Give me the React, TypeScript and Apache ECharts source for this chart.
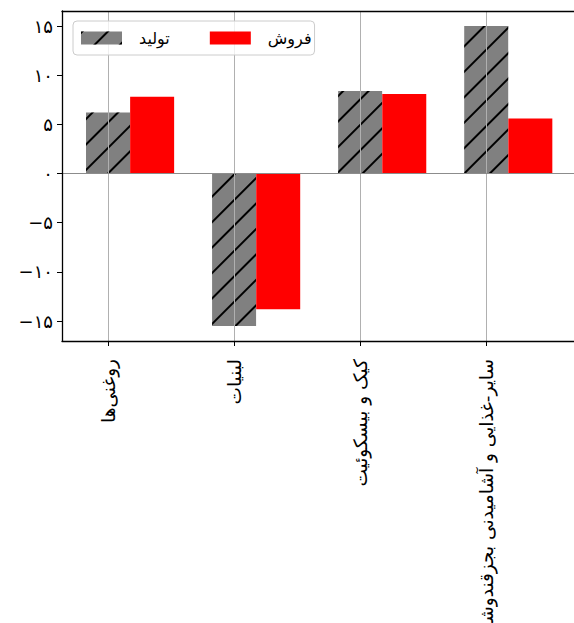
import React, { useEffect, useRef } from 'react';
import * as echarts from 'echarts';

const categories = ['روغنی\u200cها', 'لبنیات', 'کیک و بیسکوئیت', 'سایر-غذایی و آشامیدنی بجزقندوشکر'];
const productionValues = [6.2, -15.5, 8.4, 15.0];
const salesValues = [7.8, -13.8, 8.1, 5.6];
const seriesNames = ['تولید', 'فروش'];
const yTickValues = [-15, -10, -5, 0, 5, 10, 15];

const FONT = '"DejaVu Sans", "Noto Sans", sans-serif';
const X_MIN = -0.365;
const X_MAX = 3.744;
const BAR_SHIFT = 0.35;
const Y_MIN = -17.03;
const Y_MAX = 16.53;

const faDigits = '۰۱۲۳۴۵۶۷۸۹';
const toFa = (n: number) =>
  (n < 0 ? '\u2212' : '') + String(Math.abs(n)).replace(/\d/g, (d) => faDigits[+d]);

const categoryIndex = categories.map((_, i) => i);
const SPINE = { color: '#000000', width: 1.3 };

export default function App() {
  const ref = useRef<HTMLDivElement>(null);
  useEffect(() => {
    if (!ref.current) return;
    const chart = echarts.init(ref.current, undefined, { renderer: 'svg' });
    const option: any = {
      animation: false,
      backgroundColor: '#ffffff',
      grid: {
        left: 62,
        top: 11,
        right: 20,
        bottom: 282,
        containLabel: false,
        outerBoundsMode: 'none',
        show: false,
      },
      legend: {
        left: 73,
        top: 21,
        orient: 'horizontal',
        icon: 'rect',
        itemWidth: 41,
        itemHeight: 13,
        itemGap: 40,
        padding: [9, 3, 9, 8],
        borderColor: '#cccccc',
        borderWidth: 1,
        borderRadius: 4,
        backgroundColor: 'rgba(255,255,255,0.8)',
        textStyle: { fontFamily: FONT, fontSize: 16, color: '#000', padding: [0, 0, 0, 12] },
        z: 10,
        data: seriesNames,
      },
      xAxis: [
        {
          type: 'value',
          position: 'bottom',
          min: X_MIN,
          max: X_MAX,
          minInterval: 1,
          maxInterval: 1,
          z: 5,
          axisLine: { show: true, onZero: false, lineStyle: SPINE },
          axisTick: {
            show: true,
            length: 5,
            inside: false,
            lineStyle: { color: '#000', width: 1 },
            customValues: categoryIndex,
          },
          axisLabel: {
            rotate: 90,
            margin: 18,
            customValues: categoryIndex,
            formatter: (v: number) => categories[Math.round(v)] ?? '',
            fontFamily: FONT,
            fontSize: 18.5,
            color: '#000',
          },
          splitLine: { show: true, lineStyle: { color: '#b0b0b0', width: 1 } },
        },
        {
          type: 'value',
          position: 'top',
          min: X_MIN,
          max: X_MAX,
          z: 6,
          axisLine: { show: true, onZero: false, lineStyle: SPINE },
          axisTick: { show: false },
          axisLabel: { show: false },
          splitLine: { show: false },
        },
        {
          type: 'value',
          min: X_MIN - BAR_SHIFT,
          max: X_MAX - BAR_SHIFT,
          z: 5,
          axisLine: { show: true, onZero: true, lineStyle: { color: '#8c8c8c', width: 1 } },
          axisTick: { show: false },
          axisLabel: { show: false },
          splitLine: { show: false },
        },
      ],
      yAxis: {
        type: 'value',
        position: 'left',
        min: Y_MIN,
        max: Y_MAX,
        minInterval: 5,
        maxInterval: 5,
        z: 6,
        axisLine: { show: true, onZero: false, lineStyle: SPINE },
        axisTick: {
          show: true,
          length: 5,
          inside: false,
          lineStyle: { color: '#000', width: 1 },
          customValues: yTickValues,
        },
        axisLabel: {
          customValues: yTickValues,
          formatter: (v: number) => toFa(v),
          margin: 9,
          fontFamily: FONT,
          fontSize: 18,
          color: '#000',
        },
        splitLine: { show: false },
      },
      series: [
        {
          type: 'bar',
          name: seriesNames[0],
          xAxisIndex: 0,
          yAxisIndex: 0,
          barWidth: 44,
          data: productionValues.map((v, i) => [categoryIndex[i], v]),
          itemStyle: {
            color: '#808080',
            decal: {
              symbol: 'rect',
              symbolSize: 1,
              dashArrayX: [1, 0],
              dashArrayY: [1.6, 15.4],
              rotation: -Math.PI / 4,
              color: '#000000',
            },
          },
        },
        {
          type: 'bar',
          name: seriesNames[1],
          xAxisIndex: 2,
          yAxisIndex: 0,
          barWidth: 44,
          data: salesValues.map((v, i) => [categoryIndex[i], v]),
          itemStyle: { color: '#ff0000' },
        },
      ],
    };
    chart.setOption(option);
    return () => chart.dispose();
  }, []);
  return (
    <div
      style={{ position: 'fixed', left: 0, top: 0, width: 574, height: 623, overflow: 'hidden' }}
    >
      <div ref={ref} style={{ width: 600, height: 623 }} />
    </div>
  );
}
